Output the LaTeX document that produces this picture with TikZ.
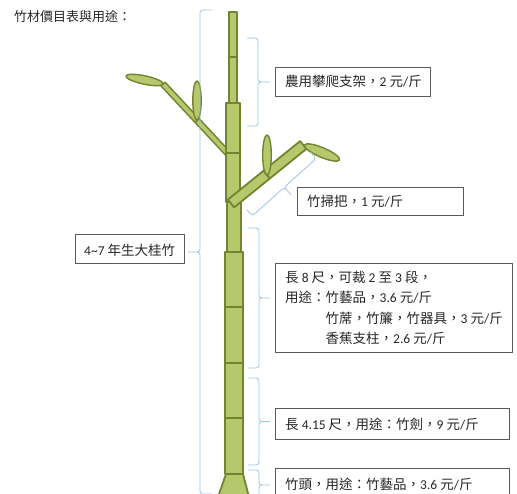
\documentclass[tikz,border=0pt]{standalone}
\usepackage{fontspec}
\setmainfont{Noto Sans CJK TC}
\newfontfamily\latinfont{Carlito}
\newcommand\lt[1]{{\latinfont#1}}
\definecolor{stalkfill}{HTML}{B5C86C}
\definecolor{stalkline}{HTML}{71842F}
\definecolor{bracecol}{HTML}{9DC3E6}
\definecolor{boxline}{HTML}{595959}
\definecolor{inkcol}{HTML}{262626}
% curly brace along the local u axis: length #1, hook depth #2, tip length #3
\newcommand\curlybrace[3]{%
  \draw[bracestyle] (0,0) -- (0,#2) -- ({#1/2},#2) -- ({#1/2},{#2+#3})
    (#1,0) -- (#1,#2) -- ({#1/2},#2) -- ({#1/2},{#2+#3});}
\begin{document}
\begin{tikzpicture}[x=1pt, y=-1pt,
  bamboo/.style={fill=stalkfill, draw=stalkline, line width=1.8pt, line join=round},
  twig/.style={bamboo, line width=1.4pt},
  bracestyle/.style={draw=bracecol, line width=0.8pt, rounded corners=3pt},
  box/.style={draw=boxline, line width=0.8pt, inner sep=0pt},
  txt/.style={text=inkcol, inner sep=0pt, font=\fontsize{13.5}{20.5}\selectfont}]
\useasboundingbox (0,0) rectangle (517,494);
\clip (0,0) rectangle (517,494);

% title
\node[txt, anchor=west, font=\fontsize{13}{16}\selectfont] (title) at (14,17) {竹材價目表與用途：};

% left branch
\begin{scope}[shift={(163,84)}, rotate=-47]
  \draw[twig] (0,-2.8) rectangle (50,2.8);
  \draw[twig] (50,-2.8) rectangle (96,2.8);
\end{scope}

% main stalk, top to bottom
\draw[bamboo] (229,12) rectangle (237,57);
\draw[bamboo] (229,57) rectangle (237,103);
\draw[bamboo] (226,103) rectangle (240,153);
\draw[bamboo] (226,153) rectangle (240,202);
\draw[bamboo] (227,202) rectangle (241,252);
\draw[bamboo] (225,252) rectangle (243,307);
\draw[bamboo] (225,307) rectangle (243,363);
\draw[bamboo] (225,363) rectangle (243,418);
\draw[bamboo] (225,418) rectangle (243,474);
\draw[bamboo] (226,474) -- (243,474) -- (249,497) -- (218,497) -- cycle;

% right branch
\begin{scope}[shift={(231,203.5)}, rotate=39]
  \draw[bamboo] (0,-5) rectangle (46,5);
  \draw[bamboo] (46,-5) rectangle (93,5);
\end{scope}

% leaves
\begin{scope}[shift={(144.5,80)}, rotate=-12]
  \draw[twig] (0,0) ellipse [x radius=19pt, y radius=4.2pt];
\end{scope}
\draw[twig] (197,100.5) ellipse [x radius=4.2pt, y radius=19.5pt];
\draw[twig] (267,155) ellipse [x radius=4.3pt, y radius=20pt];
\begin{scope}[shift={(322,152.5)}, rotate=-23]
  \draw[twig] (0,0) ellipse [x radius=19pt, y radius=4.8pt];
\end{scope}

% label boxes
\node[box, anchor=north west, minimum width=155pt, minimum height=29pt] (b1) at (275,67) {};
\node[txt, anchor=west] (b1t) at ([xshift=10pt]b1.west) {農用攀爬支架，\lt{2 }元\lt{/}斤};

\node[box, anchor=north west, minimum width=166pt, minimum height=28pt] (b2) at (297,187) {};
\node[txt, anchor=west] (b2t) at ([xshift=10pt]b2.west) {竹掃把，\lt{1 }元\lt{/}斤};

\node[box, anchor=north west, minimum width=109pt, minimum height=29pt] (b0) at (75,234) {};
\node[txt, anchor=west] (b0t) at ([xshift=9pt,yshift=-1pt]b0.west) {\lt{4\textasciitilde 7 }年生大桂竹};

\node[box, anchor=north west, minimum width=237pt, minimum height=89pt] (b3) at (275,263) {};
\node[txt, anchor=west, align=left] (b3t) at ([xshift=10pt]b3.west) {%
長\lt{ 8 }尺，可裁\lt{ 2 }至\lt{ 3 }段，\\%
用途：竹藝品，\lt{3.6 }元\lt{/}斤\\%
\hspace*{3em}竹蓆，竹簾，竹器具，\lt{3 }元\lt{/}斤\\%
\hspace*{3em}香蕉支柱，\lt{2.6 }元\lt{/}斤};

\node[box, anchor=north west, minimum width=234pt, minimum height=31pt] (b4) at (275,408) {};
\node[txt, anchor=west] (b4t) at ([xshift=10pt]b4.west) {長\lt{ 4.15 }尺，用途：竹劍，\lt{9 }元\lt{/}斤};

\node[box, anchor=north west, minimum width=234pt, minimum height=32pt] (b5) at (275,468) {};
\node[txt, anchor=west] (b5t) at (285,484) {竹頭，用途：竹藝品，\lt{3.6 }元\lt{/}斤};

% braces
\begin{scope}[shift={(212,10)}, rotate=-90]
  \curlybrace{484}{12}{12}
\end{scope}
\begin{scope}[shift={(247,126)}, rotate=90]
  \curlybrace{88}{11}{12}
\end{scope}
\begin{scope}[shift={(247,210)}, rotate=42]
  \curlybrace{86}{8}{10}
\end{scope}
\begin{scope}[shift={(248,368)}, rotate=90]
  \curlybrace{140}{11}{11}
\end{scope}
\begin{scope}[shift={(248,465)}, rotate=90]
  \curlybrace{87}{11}{11}
\end{scope}
\begin{scope}[shift={(248,500)}, rotate=90]
  \curlybrace{30}{11}{11}
\end{scope}
\end{tikzpicture}
\end{document}
